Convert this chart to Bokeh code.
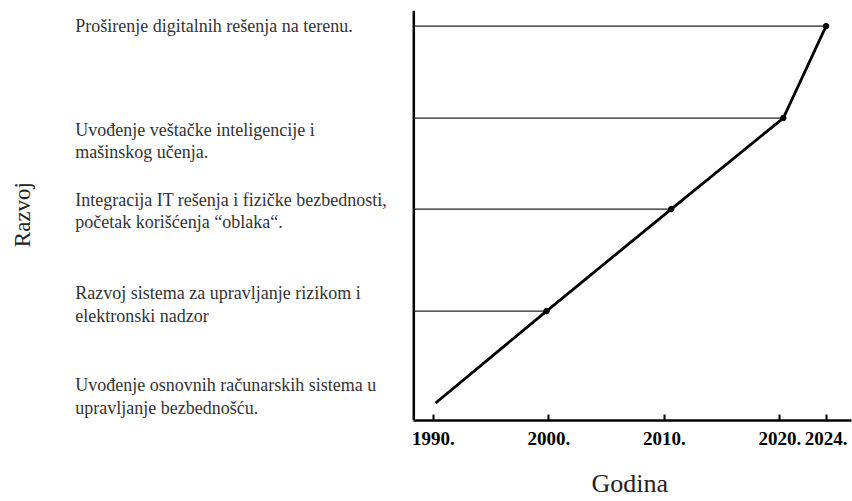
import math
from bokeh.plotting import figure
from bokeh.models import FixedTicker, Range1d, Title
from bokeh.core.properties import value
from bokeh.embed import file_html
from bokeh.resources import INLINE

# ---- data ----
years = [1990.2, 1999.8, 2010.6, 2020.3, 2024.0]
levels = [0.19, 1.19, 2.30, 3.29, 4.29]

tick_years = [1990, 2000, 2010, 2020, 2024]
tick_labels = ["1990.", "2000.", "2010.", "2020.", "2024."]

milestones = [
    "Uvođenje osnovnih računarskih sistema u\nupravljanje bezbednošću.",
    "Razvoj sistema za upravljanje rizikom i\nelektronski nadzor",
    "Integracija IT rešenja i fizičke bezbednosti,\npočetak korišćenja “oblaka“.",
    "Uvođenje veštačke inteligencije i\nmašinskog učenja.",
    "Proširenje digitalnih rešenja na terenu.",
]
milestone_y = [0.26, 1.26, 2.28, 3.04, 4.29]

x_title = "Godina"
y_title = "Razvoj"

# ---- layout constants ----
X_START, X_END = 1953.22, 2026.29
Y_START, Y_END = 0.0, 4.46
AXIS_X = 1988.31
AXIS_X_END = 2026.2
LABEL_X = 1959.0
YTITLE_X = 1954.43
YTITLE_Y = 2.24
LINE_PX = 22.5
SERIF = "Liberation Serif"

p = figure(width=852, height=501,
           x_range=Range1d(X_START, X_END), y_range=Range1d(Y_START, Y_END),
           output_backend="svg", toolbar_location=None,
           y_axis_location=None,
           min_border_left=8, min_border_right=0,
           min_border_top=10, min_border_bottom=81)
p.outline_line_color = None
p.xgrid.visible = False
p.ygrid.visible = False
p.background_fill_color = "white"
p.border_fill_color = "white"

ax = p.xaxis[0]
ax.ticker = FixedTicker(ticks=tick_years)
ax.major_label_overrides = {t: s for t, s in zip(tick_years, tick_labels)}
ax.bounds = (AXIS_X, AXIS_X_END)
ax.axis_line_width = 2.5
ax.axis_line_color = "black"
ax.major_tick_in = 6
ax.major_tick_out = 0
ax.major_tick_line_width = 2
ax.minor_tick_line_color = None
ax.major_label_standoff = 11
ax.major_label_text_font = SERIF
ax.major_label_text_font_style = "bold"
ax.major_label_text_font_size = "19px"
ax.major_label_text_color = "black"
# blank axis label used only as vertical spacing before the title
ax.axis_label = " "
ax.axis_label_text_font_size = "10px"
ax.axis_label_standoff = 5

# x title under the axis line, centred under the axis segment
p.add_layout(Title(text=x_title, align="left", offset=583,
                   text_font=SERIF, text_font_size="26px",
                   text_font_style="normal", text_color="#222222",
                   standoff=0), "below")

# y axis line
p.segment(x0=[AXIS_X], y0=[Y_START], x1=[AXIS_X], y1=[Y_END],
          line_color="black", line_width=2.5)

# horizontal guide lines from the y axis to each milestone point
p.segment(x0=[AXIS_X] * (len(years) - 1), y0=levels[1:],
          x1=years[1:], y1=levels[1:],
          line_color="#222222", line_width=1.2)

# main development line
p.line(x=years, y=levels, line_color="black", line_width=2.8)
p.scatter(x=years[1:], y=levels[1:], size=5.5, color="black")

# milestone descriptions, one text row per line
rows_y, rows_t, rows_off = [], [], []
for txt, yy in zip(milestones, milestone_y):
    lines = txt.split("\n")
    n = len(lines)
    for i, ln in enumerate(lines):
        rows_y.append(yy)
        rows_t.append(ln)
        rows_off.append((i - (n - 1) / 2) * LINE_PX)
p.text(x=[LABEL_X] * len(rows_t), y=rows_y, text=rows_t, y_offset=rows_off,
       text_font=value(SERIF), text_font_size="18px",
       text_align="left", text_baseline="middle", text_color="#333333")

# y title
p.text(x=[YTITLE_X], y=[YTITLE_Y], text=[y_title], angle=math.pi / 2,
       text_font=value(SERIF), text_font_size="23px",
       text_align="center", text_baseline="middle", text_color="#222222")

open("out.html", "w").write(file_html(p, INLINE))
